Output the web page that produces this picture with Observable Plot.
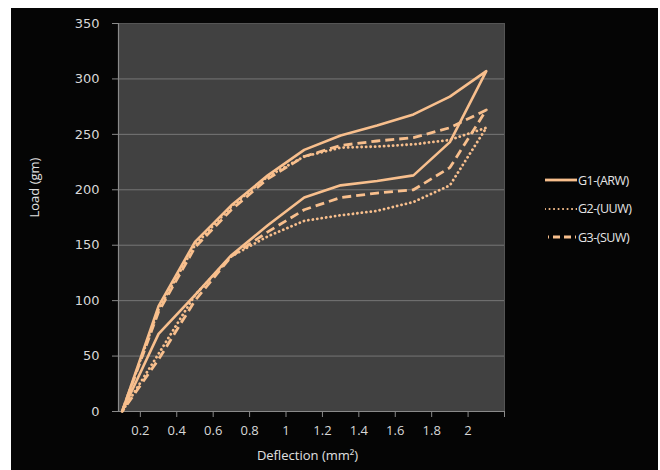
<!DOCTYPE html>
<html>
<head>
<meta charset="utf-8">
<script src="https://cdn.jsdelivr.net/npm/d3@7"></script>
<script src="https://cdn.jsdelivr.net/npm/@observablehq/plot@0.6"></script>
<style>
  html, body { margin: 0; padding: 0; background: #ffffff; }
  #frame { position: absolute; left: 11px; top: 8px; width: 647px; height: 462px; background: #050505; overflow: hidden; }
  #legend { position: absolute; left: 545px; top: 166px; font-family: "Open Sans", sans-serif; font-size: 12.5px; color: #e6e6e6; }
  .item { display: flex; align-items: center; height: 28.5px; letter-spacing: -0.5px; }
  .item svg { margin-right: 1px; }
</style>
</head>
<body>
<div id="frame"></div>
<div id="legend"></div>
<script>
// Deflection positions (mm^2) along loading path; unloading path uses the same in reverse
const deflection = [0.1, 0.3, 0.5, 0.7, 0.9, 1.1, 1.3, 1.5, 1.7, 1.9, 2.1];

// Series names
const seriesNames = ["G1-(ARW)", "G2-(UUW)", "G3-(SUW)"];

// Loading (upper) curves, load in gm
const g1Loading   = [0, 95, 153, 186, 213, 236, 249, 258, 268, 284, 307];
const g2Loading   = [0, 92, 150, 185, 212, 230, 238, 239, 241, 245, 256];
const g3Loading   = [0, 90, 148, 182, 210, 230, 240, 244, 247, 256, 272];

// Unloading (lower) curves, load in gm, same deflection order
const g1Unloading = [0, 70, 105, 141, 168, 193, 204, 208, 213, 243, 307];
const g2Unloading = [0, 52, 105, 140, 158, 172, 177, 181, 189, 204, 256];
const g3Unloading = [0, 47, 100, 140, 162, 182, 193, 197, 200, 220, 272];

const yTicks = [0, 50, 100, 150, 200, 250, 300, 350];
const xTicks = [0.2, 0.4, 0.6, 0.8, 1, 1.2, 1.4, 1.6, 1.8, 2, 2.2];
const xLabelled = [0.2, 0.4, 0.6, 0.8, 1, 1.2, 1.4, 1.6, 1.8, 2];

function loop(name, up, down) {
  const rows = deflection.map((d, i) => ({series: name, x: d, y: up[i]}));
  for (let i = deflection.length - 2; i >= 0; i--) rows.push({series: name, x: deflection[i], y: down[i]});
  return rows;
}
const g1 = loop(seriesNames[0], g1Loading, g1Unloading);
const g2 = loop(seriesNames[1], g2Loading, g2Unloading);
const g3 = loop(seriesNames[2], g3Loading, g3Unloading);

const lineColor = "#f8bf8d";
const styles = [
  {strokeWidth: 2.6, strokeDasharray: null, strokeLinecap: "butt"},
  {strokeWidth: 2.8, strokeDasharray: "0.1,4.4", strokeLinecap: "round"},
  {strokeWidth: 2.8, strokeDasharray: "9,5", strokeLinecap: "butt"}
];

const chart = Plot.plot({
  width: 647,
  height: 462,
  marginLeft: 107,
  marginTop: 15,
  marginRight: 154,
  marginBottom: 59,
  style: {background: "transparent", color: "#dcdcdc", fontFamily: "'Open Sans', sans-serif"},
  x: {domain: [0.08, 2.2]},
  y: {domain: [0, 350]},
  marks: [
    Plot.frame({fill: "#414141", stroke: null}),
    Plot.gridY(yTicks.slice(1, -1), {stroke: "#767676", strokeOpacity: 1, strokeWidth: 1}),
    Plot.ruleY([350], {stroke: "#555", strokeWidth: 1}),
    Plot.ruleX([2.2], {stroke: "#555", strokeWidth: 1}),
    Plot.ruleY([0], {stroke: "#8a8a8a", strokeWidth: 1.2}),
    Plot.ruleX([0.08], {stroke: "#8a8a8a", strokeWidth: 1.2}),
    Plot.axisY({ticks: yTicks, tickSize: 6, tickPadding: 13, stroke: "#8a8a8a", fontSize: 13, fontFamily: "DejaVu Sans", fill: "#d8d8d8", label: null, style: {letterSpacing: "1.6px"}}),
    Plot.axisX({ticks: xTicks, tickSize: 6, tickPadding: 8, stroke: "#8a8a8a", fontSize: 13, fill: "#d8d8d8", label: null,
      tickFormat: d => xLabelled.includes(d) ? String(d) : ""}),
    Plot.line(g1, {x: "x", y: "y", stroke: lineColor, ...styles[0], strokeLinejoin: "round", curve: "linear"}),
    Plot.line(g2, {x: "x", y: "y", stroke: lineColor, ...styles[1], strokeLinejoin: "round", curve: "linear"}),
    Plot.line(g3, {x: "x", y: "y", stroke: lineColor, ...styles[2], strokeLinejoin: "round", curve: "linear"}),
    Plot.text(["Load (gm)"], {frameAnchor: "left", dx: -84, rotate: -90, fill: "#e0e0e0", fontSize: 13}),
    Plot.text(["Deflection (mm²)"], {frameAnchor: "bottom", dy: 48, dx: -4, fill: "#e0e0e0", fontSize: 13})
  ]
});
document.getElementById("frame").appendChild(chart);

// Legend
const legend = document.getElementById("legend");
seriesNames.forEach((name, i) => {
  const item = document.createElement("div");
  item.className = "item";
  const s = styles[i];
  const dash = i === 2 ? 'stroke-dasharray="1,4,7,4,7,4"' : (s.strokeDasharray ? `stroke-dasharray="${s.strokeDasharray}"` : "");
  item.innerHTML = `<svg width="32" height="10"><line x1="${i===2?3:0}" y1="5" x2="32" y2="5" stroke="${lineColor}" stroke-width="${i===1?2:2.8}" stroke-linecap="${s.strokeLinecap}" ${dash}/></svg><span>${name}</span>`;
  legend.appendChild(item);
});
</script>
</body>
</html>
